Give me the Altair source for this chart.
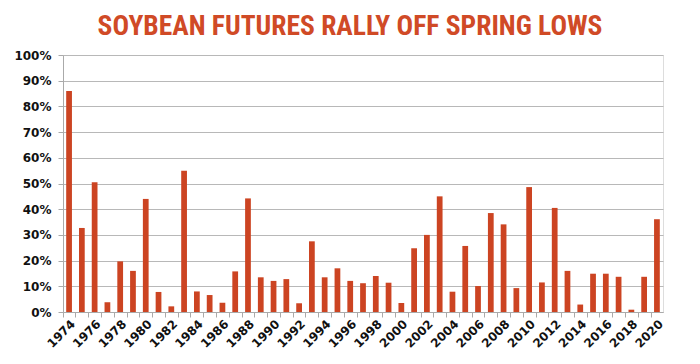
import altair as alt
import pandas as pd

years = list(range(1974, 2021))
rally_pct = [86.0, 32.7, 50.5, 3.8, 19.7, 16.0, 44.0, 7.8, 2.2, 55.0,
             8.0, 6.6, 3.6, 15.8, 44.2, 13.5, 12.1, 12.8, 3.4, 27.5,
             13.5, 17.0, 12.1, 11.2, 14.0, 11.4, 3.5, 24.8, 30.0, 45.0,
             7.9, 25.7, 10.1, 38.5, 34.1, 9.3, 48.6, 11.5, 40.5, 16.0,
             2.9, 14.9, 14.9, 13.7, 0.9, 13.7, 36.1]
y_ticks = [0, 0.1, 0.2, 0.3, 0.4, 0.5, 0.6, 0.7, 0.8, 0.9, 1.0]

df = pd.DataFrame({"year": years, "rally": [v / 100 for v in rally_pct]})

step = 600 / (47 - 0.55 + 0.5)

chart = alt.Chart(df).mark_bar(color="#cc4422").encode(
    x=alt.X("year:O", title=None,
            scale=alt.Scale(paddingInner=0.55, paddingOuter=0.25),
            axis=alt.Axis(labelAngle=-45, labelExpr="datum.value % 2 == 0 ? datum.label : ''",
                          labelFont="DejaVu Sans", labelFontWeight="bold", labelFontSize=12,
                          labelColor="#111", domainColor="#aaaaaa", tickColor="#aaaaaa",
                          tickSize=5, tickOffset=-step / 2, labelOffset=step / 2,
                          labelPadding=1, grid=False, labelOverlap=False)),
    y=alt.Y("rally:Q", title=None,
            scale=alt.Scale(domain=[0, 1], nice=False),
            axis=alt.Axis(values=y_ticks, format=".0%", labelFont="DejaVu Sans",
                          labelFontWeight="bold", labelFontSize=12, labelColor="#111",
                          domainColor="#aaaaaa", tickColor="#aaaaaa", tickSize=5,
                          labelPadding=7, gridColor="#b8b8b8", gridWidth=1.2)),
).properties(
    width=600, height=257,
    title=alt.TitleParams("SOYBEAN FUTURES RALLY OFF SPRING LOWS",
                          font="Roboto Condensed, Roboto", fontWeight="bold", fontSize=27.5,
                          color="#d04a26", anchor="middle", offset=8.5, dx=-13),
).configure_view(stroke=None).configure(background="white")

chart.save("out.html", embed_options={"renderer": "svg", "actions": False})
